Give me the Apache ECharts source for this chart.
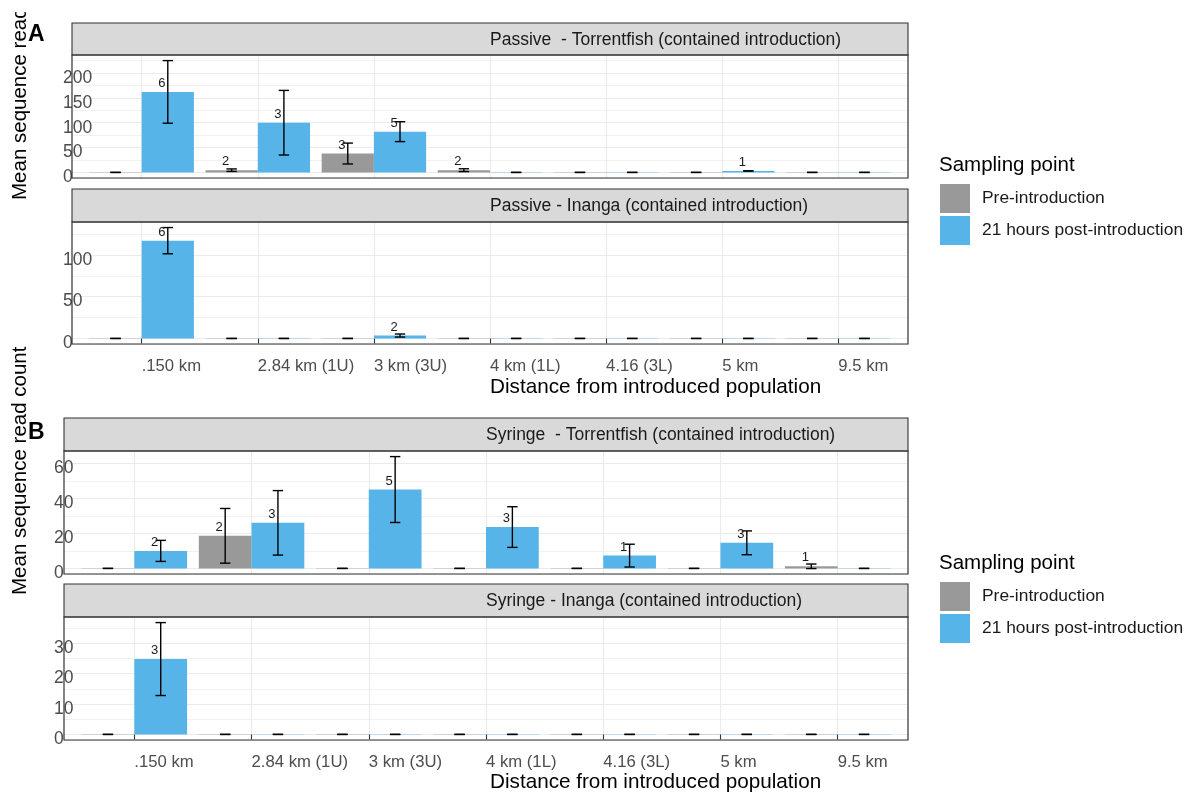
<!DOCTYPE html>
<html>
<head>
<meta charset="utf-8">
<title>Mean sequence read count by distance</title>
<script src="https://cdn.jsdelivr.net/npm/echarts@6/dist/echarts.min.js"></script>
<style>
  html, body { margin: 0; padding: 0; background: #ffffff; }
  #chart { width: 1194px; height: 794px; }
</style>
</head>
<body>
<div id="chart"></div>
<script>
// Sampling sites, ordered by distance from the introduced population
const categories = ['.150 km', '2.84 km (1U)', '3 km (3U)', '4 km (1L)', '4.16 (3L)', '5 km', '9.5 km'];

// Passive - Torrentfish: mean reads, error half-width, replicate count
const ptPreMean  = [0, 4.5, 38, 4.5, 0, 0, 0];
const ptPreErr   = [0, 2.5, 21, 2.8, 0, 0, 0];
const ptPreN     = [null, 2, 3, 2, null, null, null];
const ptPostMean = [162, 100, 82, 0, 0, 3, 0];
const ptPostErr  = [63, 65, 20, 0, 0, 0, 0];
const ptPostN    = [6, 3, 5, null, null, 1, null];

// Passive - Inanga
const piPreMean  = [0, 0, 0, 0, 0, 0, 0];
const piPreErr   = [0, 0, 0, 0, 0, 0, 0];
const piPreN     = [null, null, null, null, null, null, null];
const piPostMean = [117, 0, 3.5, 0, 0, 0, 0];
const piPostErr  = [15.7, 0, 1.8, 0, 0, 0, 0];
const piPostN    = [6, null, 2, null, null, null, null];

// Syringe - Torrentfish
const stPreMean  = [0, 18.6, 0, 0, 0, 0, 1.2];
const stPreErr   = [0, 15.6, 0, 0, 0, 0, 1.3];
const stPreN     = [null, 2, null, null, null, null, 1];
const stPostMean = [10, 26, 45, 23.6, 7.3, 14.6, 0];
const stPostErr  = [6, 18.4, 18.8, 11.6, 6.5, 6.8, 0];
const stPostN    = [2, 3, 5, 3, 1, 3, null];

// Syringe - Inanga
const siPreMean  = [0, 0, 0, 0, 0, 0, 0];
const siPreErr   = [0, 0, 0, 0, 0, 0, 0];
const siPreN     = [null, null, null, null, null, null, null];
const siPostMean = [24.8, 0, 0, 0, 0, 0, 0];
const siPostErr  = [12, 0, 0, 0, 0, 0, 0];
const siPostN    = [3, null, null, null, null, null, null];

const seriesNames = ['Pre-introduction', '21 hours post-introduction'];
const colors = ['#999999', '#56B4E9'];

const FONT = "'Liberation Sans', Arial, Helvetica, sans-serif";
const TEXT_GREY = '#4D4D4D';
const GRID_LINE = '#EBEBEB';
const FRAME = '#333333';
const HALF = 0.225;      // half of one dodged bar, in category units
const WHISKER = 5.2;     // half width of error-bar caps, px

const facets = [
  { box: { left: 72, top: 55, width: 836, height: 123 }, strip: { top: 23, height: 32 },
    title: 'Passive  - Torrentfish (contained introduction)', major: 50, labelMargin: 9, bottom: false,
    pre: [ptPreMean, ptPreErr, ptPreN], post: [ptPostMean, ptPostErr, ptPostN] },
  { box: { left: 72, top: 222, width: 836, height: 122 }, strip: { top: 189, height: 33 },
    title: 'Passive - Inanga (contained introduction)', major: 50, labelMargin: 9, bottom: true,
    pre: [piPreMean, piPreErr, piPreN], post: [piPostMean, piPostErr, piPostN] },
  { box: { left: 64, top: 451, width: 844, height: 123 }, strip: { top: 418, height: 33 },
    title: 'Syringe  - Torrentfish (contained introduction)', major: 20, labelMargin: 10, bottom: false,
    pre: [stPreMean, stPreErr, stPreN], post: [stPostMean, stPostErr, stPostN] },
  { box: { left: 64, top: 617, width: 844, height: 123 }, strip: { top: 584, height: 33 },
    title: 'Syringe - Inanga (contained introduction)', major: 10, labelMargin: 10, bottom: true,
    pre: [siPreMean, siPreErr, siPreN], post: [siPostMean, siPostErr, siPostN] }
];

const grids = [], xAxes = [], yAxes = [], series = [], graphics = [];
const tickPositions = categories.map((_, i) => i + 1);

function barSeries(name, color, side, stats, k) {
  const [mean, err, n] = stats;
  return {
    type: 'custom',
    name: name,
    coordinateSystem: 'cartesian2d',
    xAxisIndex: k,
    yAxisIndex: 2 * k,
    itemStyle: { color: color },
    encode: { x: 0, y: 1 },
    silent: true,
    data: mean.map((m, i) => [i + 1, m, err[i], n[i] == null ? 0 : n[i]]),
    renderItem: function (params, api) {
      const g = api.value(0), m = api.value(1), e = api.value(2), cnt = api.value(3);
      const c = g + side * HALF;
      const tl = api.coord([c - HALF, m]);
      const br = api.coord([c + HALF, 0]);
      const children = [];
      const h = br[1] - tl[1];
      if (h >= 0.6) {
        children.push({ type: 'rect', shape: { x: tl[0], y: tl[1], width: br[0] - tl[0], height: h },
          style: { fill: color } });
      } else {
        children.push({ type: 'rect', shape: { x: tl[0], y: br[1] - 0.5, width: br[0] - tl[0], height: 1 },
          style: { fill: color, opacity: 0.3 } });
      }
      const cx = api.coord([c, 0])[0];
      const yTop = api.coord([c, m + e])[1];
      const yBot = api.coord([c, m - e])[1];
      const ls = { stroke: '#000000', lineWidth: 1.4 };
      children.push({ type: 'line', shape: { x1: cx, y1: yTop, x2: cx, y2: yBot }, style: ls });
      children.push({ type: 'line', shape: { x1: cx - WHISKER, y1: yTop, x2: cx + WHISKER, y2: yTop }, style: ls });
      children.push({ type: 'line', shape: { x1: cx - WHISKER, y1: yBot, x2: cx + WHISKER, y2: yBot }, style: ls });
      if (cnt > 0) {
        children.push({ type: 'text', x: cx - 6, y: tl[1] - 8.5,
          style: { text: String(cnt), fontSize: 13, fontFamily: FONT, fill: '#1a1a1a',
                   align: 'center', verticalAlign: 'middle' } });
      }
      return { type: 'group', children: children };
    }
  };
}

facets.forEach((f, k) => {
  const b = f.box;
  grids.push({ left: b.left, top: b.top, width: b.width, height: b.height,
               containLabel: false, outerBoundsMode: 'none', show: false });

  xAxes.push({
    type: 'value', gridIndex: k, min: 0.4, max: 7.6, minInterval: 1, maxInterval: 1,
    axisLine: { show: false },
    axisTick: { show: f.bottom, length: 5, lineStyle: { color: FRAME, width: 1.1 }, customValues: tickPositions },
    axisLabel: {
      show: f.bottom, customValues: tickPositions, align: 'left', margin: 14,
      fontSize: 16.7, fontFamily: FONT, color: TEXT_GREY,
      formatter: v => (Number.isInteger(v) && categories[v - 1]) ? categories[v - 1] : ''
    },
    splitLine: { show: true, lineStyle: { color: GRID_LINE, width: 1.1 } }
  });

  const all = f.pre[0].map((m, i) => m + f.pre[1][i]).concat(f.post[0].map((m, i) => m + f.post[1][i]));
  const top = Math.max.apply(null, all);
  const lo = -0.05 * top, hi = 1.05 * top;

  // major lines with labels
  yAxes.push({
    type: 'value', gridIndex: k, min: lo, max: hi, minInterval: f.major, maxInterval: f.major,
    axisLine: { show: false }, axisTick: { show: false },
    axisLabel: {
      show: true, align: 'left', margin: f.labelMargin, verticalAlign: 'top', lineHeight: 10,
      fontSize: 17.5, fontFamily: FONT, color: TEXT_GREY,
      formatter: v => (Math.abs(v / f.major - Math.round(v / f.major)) < 1e-6) ? String(Math.round(v)) : ''
    },
    splitLine: { show: true, lineStyle: { color: GRID_LINE, width: 1.1 } }
  });
  // minor lines halfway between the major ones
  yAxes.push({
    type: 'value', gridIndex: k, min: lo, max: hi, minInterval: f.major / 2, maxInterval: f.major / 2,
    position: 'left', axisLine: { show: false }, axisTick: { show: false }, axisLabel: { show: false },
    splitLine: { show: true, lineStyle: { color: GRID_LINE, width: 0.7 } }
  });

  series.push(barSeries(seriesNames[0], colors[0], -1, f.pre, k));
  series.push(barSeries(seriesNames[1], colors[1], 1, f.post, k));

  // facet strip
  graphics.push({ type: 'rect', z: 100, shape: { x: b.left, y: f.strip.top, width: b.width, height: f.strip.height },
    style: { fill: '#D9D9D9', stroke: FRAME, lineWidth: 1.1 } });
  graphics.push({ type: 'text', z: 101, x: b.left + b.width / 2, y: f.strip.top + f.strip.height / 2 + 1,
    style: { text: f.title, fontSize: 17.5, fontFamily: FONT, fill: '#1A1A1A', align: 'left', verticalAlign: 'middle' } });
  // panel frame
  graphics.push({ type: 'rect', z: 100, shape: { x: b.left, y: b.top, width: b.width, height: b.height },
    style: { fill: null, stroke: FRAME, lineWidth: 1.2 } });
});

// axis titles, panel tags and legend headings
const blocks = [
  { tag: 'A', tagY: 35, xTitleY: 387, yTitleStart: 200, legendTop: 184, legendTitleY: 165 },
  { tag: 'B', tagY: 433, xTitleY: 782, yTitleStart: 595, legendTop: 582, legendTitleY: 563 }
];
const legends = [];
blocks.forEach(bk => {
  graphics.push({ type: 'text', z: 102, x: 20, y: bk.yTitleStart, rotation: Math.PI / 2,
    style: { text: 'Mean sequence read count', fontSize: 20.5, fontFamily: FONT, fill: '#000000',
             align: 'left', verticalAlign: 'middle' } });
  graphics.push({ type: 'text', z: 104, x: 28, y: bk.tagY,
    style: { text: bk.tag, fontSize: 23, fontWeight: 'bold', fontFamily: FONT, fill: '#000000',
             align: 'left', verticalAlign: 'middle' } });
  graphics.push({ type: 'text', z: 102, x: 490, y: bk.xTitleY,
    style: { text: 'Distance from introduced population', fontSize: 20.7, fontFamily: FONT, fill: '#000000',
             align: 'left', verticalAlign: 'middle' } });
  graphics.push({ type: 'text', z: 102, x: 939, y: bk.legendTitleY,
    style: { text: 'Sampling point', fontSize: 20.5, fontFamily: FONT, fill: '#000000',
             align: 'left', verticalAlign: 'middle' } });
  legends.push({
    orient: 'vertical', left: 940, top: bk.legendTop, padding: 0,
    itemWidth: 30, itemHeight: 29, itemGap: 3, icon: 'rect', selectedMode: false,
    data: seriesNames.map(n => ({ name: n, icon: 'rect' })),
    textStyle: { fontSize: 17.4, fontFamily: FONT, color: '#1A1A1A', padding: [0, 0, 0, 7] }
  });
});
// the top block's y title runs past the top margin and is cut there
graphics.push({ type: 'rect', z: 103, shape: { x: 0, y: 0, width: 27, height: 12 }, style: { fill: '#ffffff' } });

const chart = echarts.init(document.getElementById('chart'), null, { renderer: 'canvas' });
chart.setOption({
  animation: false,
  backgroundColor: '#ffffff',
  textStyle: { fontFamily: FONT },
  grid: grids,
  xAxis: xAxes,
  yAxis: yAxes,
  legend: legends,
  series: series,
  graphic: { elements: graphics }
});
</script>
</body>
</html>
